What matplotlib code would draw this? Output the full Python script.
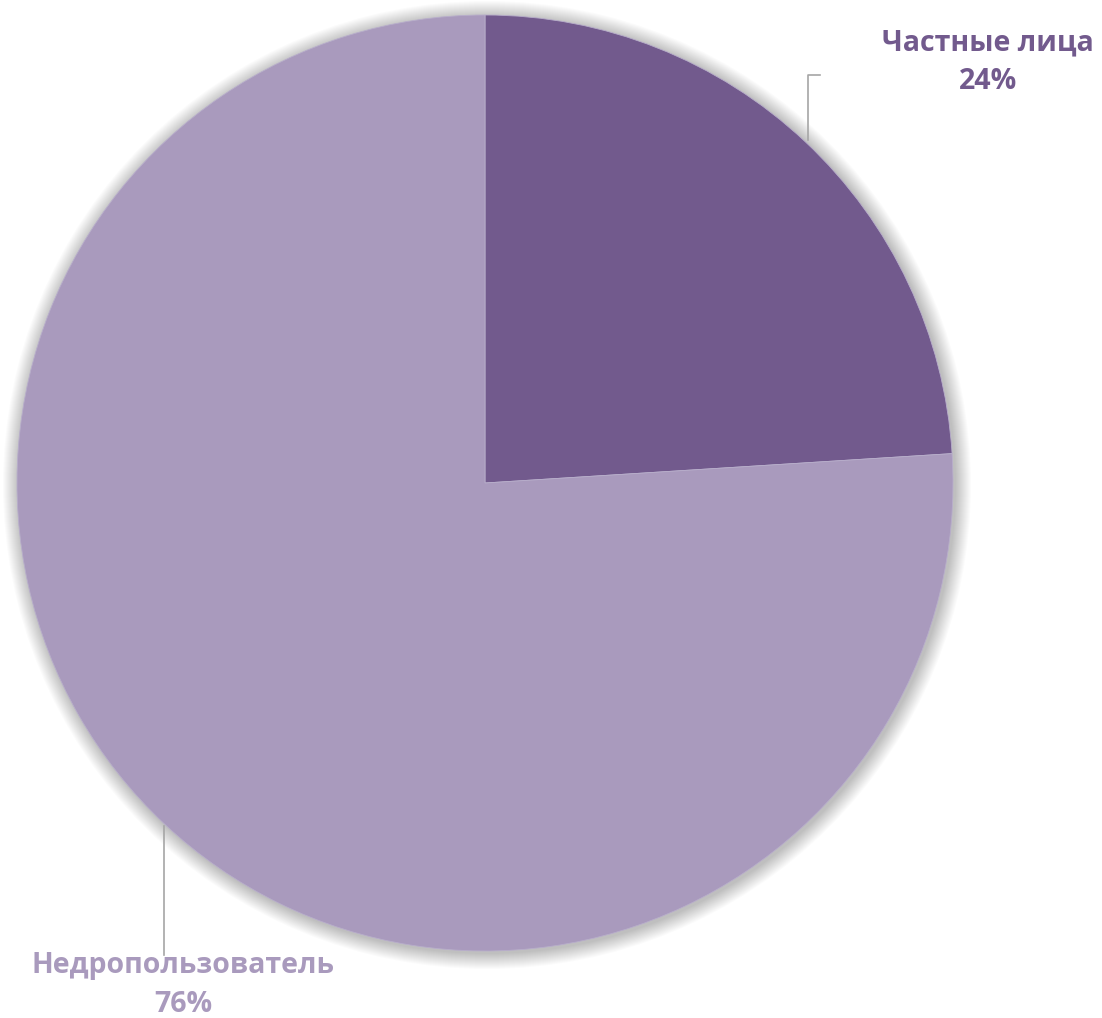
import numpy as np
import matplotlib.pyplot as plt

# data
categories = ["Частные лица", "Недропользователь"]
shares = [24, 76]
colors = ["#725A8D", "#A99ABD"]

W, H = 1102, 1018
fig = plt.figure(figsize=(W / 100, H / 100), dpi=100)
ax = fig.add_axes([0, 0, 1, 1])
ax.set_xlim(0, W)
ax.set_ylim(0, H)
ax.set_aspect("equal")
ax.axis("off")

cx, cy, R = 485, H - 483, 468

# soft shadow around the pie
for i in range(16, 0, -1):
    shadow = plt.Circle((cx + 2, cy - 2), R + i, color="black",
                        alpha=0.014, lw=0, zorder=0)
    ax.add_patch(shadow)

wedges, _ = ax.pie(shares, colors=colors, startangle=90, counterclock=False,
                   center=(cx, cy), radius=R, frame=True,
                   wedgeprops=dict(linewidth=0.6, edgecolor="#B8AECB"))
ax.set_xlim(0, W)
ax.set_ylim(0, H)
ax.axis("off")

font = dict(family=["Open Sans", "DejaVu Sans"], fontweight="bold", fontsize=20.5)

# leader lines
ax.plot([808, 808, 820], [H - 140, H - 75, H - 75], color="#A6A6A6", lw=1.2)
ax.plot([164, 164], [H - 826, H - 955], color="#A6A6A6", lw=1.2)

ax.text(988, H - 62, f"{categories[0]}\n{shares[0]}%", color=colors[0],
        ha="center", va="center", linespacing=1.45, **font)
ax.text(183, H - 985, f"{categories[1]}\n{shares[1]}%", color=colors[1],
        ha="center", va="center", linespacing=1.45, **font)

fig.savefig("out.png", dpi=100, facecolor="white")
